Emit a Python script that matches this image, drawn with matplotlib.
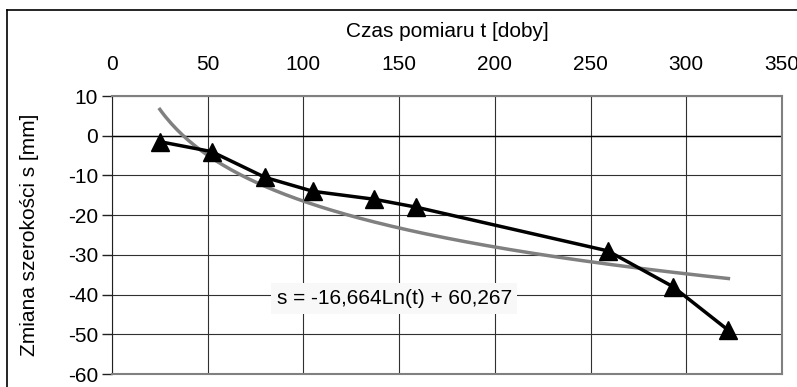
import numpy as np
import matplotlib.pyplot as plt
from matplotlib.lines import Line2D

plt.rcParams["font.family"] = ["Liberation Sans", "DejaVu Sans"]
plt.rcParams["axes.unicode_minus"] = False

# measured points
t_days = [25, 52, 80, 105, 137, 159, 259, 293, 322]
s_mm = [-1.5, -4.0, -10.5, -14.0, -16.0, -18.0, -29.0, -38.0, -49.0]

# logarithmic trend from the chart
trend_a = -16.664
trend_b = 60.267
trend_label = "s = -16,664Ln(t) + 60,267"

x_ticks = [0, 50, 100, 150, 200, 250, 300, 350]
y_ticks = [10, 0, -10, -20, -30, -40, -50, -60]

FS = 15

fig = plt.figure(figsize=(7.97, 3.87), dpi=100)
ax = fig.add_axes([112 / 797, 13 / 387, 670 / 797, 278 / 387])

ax.set_xlim(0, 350)
ax.set_ylim(-60, 10)
ax.set_xticks(x_ticks)
ax.set_yticks(y_ticks)
ax.grid(True, color="#303030", linewidth=0.8)
ax.set_axisbelow(True)

# x axis sits on top, y axis ticks outside on the left
ax.xaxis.tick_top()
ax.xaxis.set_label_position("top")
ax.tick_params(axis="x", length=0, pad=15.5, labelsize=FS)
ax.tick_params(axis="y", length=7, width=1, pad=3, labelsize=FS, color="#202020")
ax.set_xlabel("Czas pomiaru t [doby]", fontsize=FS, labelpad=13.5)
ax.set_ylabel("Zmiana szerokości s [mm]", fontsize=FS, labelpad=21)

for side in ("top", "right", "bottom"):
    ax.spines[side].set_color("#808080")
    ax.spines[side].set_linewidth(1.5)
ax.spines["left"].set_color("#202020")

# zero line drawn a bit darker like the chart's x axis
ax.axhline(0, color="black", linewidth=1.0, zorder=1)

t_fit = np.linspace(min(t_days), max(t_days), 200)
ax.plot(t_fit, trend_a * np.log(t_fit) + trend_b, color="#808080", linewidth=2.5, zorder=3)
ax.plot(t_days, s_mm, color="black", linewidth=2.5, marker="^", markersize=13, zorder=4)

ax.text(86, -41, trend_label, fontsize=FS, va="center", ha="left",
        bbox=dict(facecolor="#f8f8f8", edgecolor="none", pad=4), zorder=5)

# outer chart border (only top and left are visible in the crop)
fig.add_artist(Line2D([7 / 797, 7 / 797], [0, 1 - 9.5 / 387], transform=fig.transFigure,
                      color="black", linewidth=1.2))
fig.add_artist(Line2D([7 / 797, 1], [1 - 9.5 / 387, 1 - 9.5 / 387], transform=fig.transFigure,
                      color="black", linewidth=1.2))

fig.savefig("out.png", dpi=100)
